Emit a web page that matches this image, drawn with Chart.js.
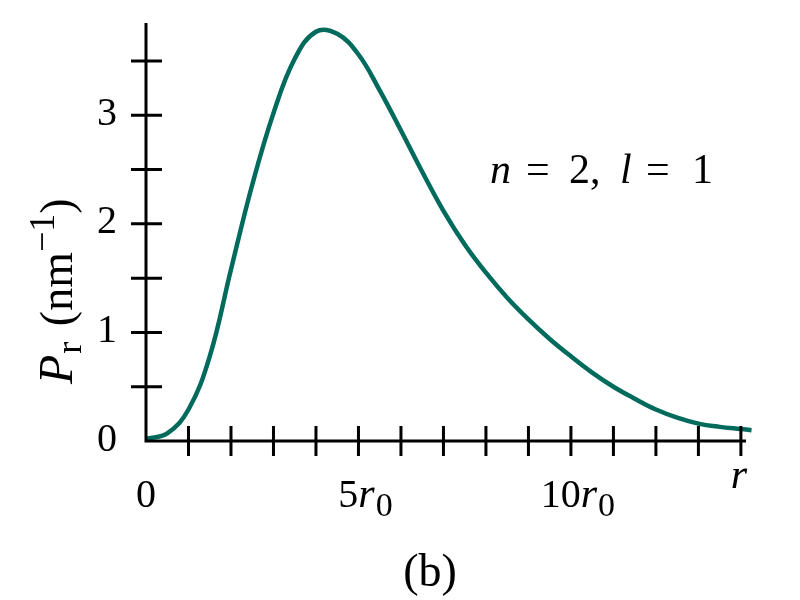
<!DOCTYPE html>
<html>
<head>
<meta charset="utf-8">
<script src="https://cdn.jsdelivr.net/npm/chart.js@4.4.1/dist/chart.umd.min.js"></script>
<style>
  html, body { margin: 0; padding: 0; background: #fff; }
  canvas { display: block; }
</style>
</head>
<body>
<canvas id="chart" width="800" height="600"></canvas>
<script>
// radius in units of r0
const rValues  = [0, 0.5, 1, 1.5, 2, 2.5, 3, 3.5, 4, 4.5, 5, 5.5, 6, 6.5, 7, 7.5, 8, 8.5, 9, 9.5, 10, 10.5, 11, 11.5, 12, 12.5, 13, 13.5, 14, 14.25]
// P_r in nm^-1
const prValues = [0.02, 0.07, 0.29, 0.78, 1.58, 2.36, 3.02, 3.52, 3.77, 3.75, 3.56, 3.23, 2.86, 2.48, 2.12, 1.81, 1.55, 1.32, 1.12, 0.94, 0.78, 0.63, 0.50, 0.39, 0.29, 0.215, 0.16, 0.13, 0.11, 0.10]

const xTickVals = [1, 2, 3, 4, 5, 6, 7, 8, 9, 10, 11, 12, 13, 14]
const yTickVals = [0.5, 1, 1.5, 2, 2.5, 3, 3.5]
const yLabelVals = [0, 1, 2, 3]
const xLabelVals = [0, 5, 10]
const xLabelNums = ['0', '5', '10']
const curveLabel = ['n', '=', '2,', 'l', '=', '1']
const panelLabel = '(b)'

const serif = '"Liberation Serif", Tinos, "Nimbus Roman", FreeSerif, "Noto Serif", "Times New Roman", Times, "DejaVu Serif", serif'
const font = (size, italic) => (italic ? 'italic ' : '') + size + 'px ' + serif
const ink = '#000'
const curveColor = '#006b5c'

// parts: [text, size, italic, dy, gapAfter]
function runWidth(ctx, parts) {
  let w = 0
  for (const p of parts) { ctx.font = font(p[1], p[2]); w += ctx.measureText(p[0]).width + (p[4] || 0) }
  return w
}
function drawRun(ctx, x, y, parts) {
  for (const p of parts) {
    ctx.font = font(p[1], p[2])
    ctx.fillText(p[0], x, y + (p[3] || 0))
    x += ctx.measureText(p[0]).width + (p[4] || 0)
  }
  return x
}

const axesPlugin = {
  id: 'axesPlugin',
  afterDatasetsDraw(chart) {
    const ctx = chart.ctx
    const xs = chart.scales.x, ys = chart.scales.y
    const x0 = xs.getPixelForValue(0), y0 = ys.getPixelForValue(0)
    ctx.save()
    ctx.strokeStyle = ink
    ctx.lineWidth = 3
    ctx.lineCap = 'butt'
    ctx.beginPath()
    ctx.moveTo(x0, y0 + 1.5); ctx.lineTo(x0, chart.chartArea.top)
    ctx.moveTo(x0 - 1.5, y0); ctx.lineTo(chart.chartArea.right, y0)
    for (const v of xTickVals) {
      const px = xs.getPixelForValue(v)
      ctx.moveTo(px, y0 - 15); ctx.lineTo(px, y0 + 15)
    }
    for (const v of yTickVals) {
      const py = ys.getPixelForValue(v)
      ctx.moveTo(x0 - 15, py); ctx.lineTo(x0 + 16, py)
    }
    ctx.stroke()

    ctx.fillStyle = ink
    // y tick labels
    ctx.font = font(40, false)
    ctx.textAlign = 'right'
    ctx.textBaseline = 'middle'
    for (const v of yLabelVals) ctx.fillText(String(v), x0 - 29, ys.getPixelForValue(v) - 1)

    // x tick labels
    ctx.textAlign = 'left'
    ctx.textBaseline = 'alphabetic'
    xLabelVals.forEach((v, i) => {
      const px = xs.getPixelForValue(v)
      const parts = v === 0
        ? [[xLabelNums[i], 40, false]]
        : [[xLabelNums[i], 40, false], ['r', 42, true, 0, 1], ['0', 34, false, 9]]
      const w = runWidth(ctx, parts)
      drawRun(ctx, px - w / 2 + (v === 0 ? 0 : 7), 507, parts)
    })
    // axis variable at the end
    ctx.font = font(42, true)
    ctx.textAlign = 'center'
    ctx.fillText('r', xs.getPixelForValue(14) - 2, 488)

    // curve label
    ctx.textAlign = 'left'
    const labelX = [490, 526, 569, 620, 646, 692]
    curveLabel.forEach((t, i) => {
      ctx.font = font(42, t === 'n' || t === 'l')
      ctx.fillText(t, labelX[i], 183)
    })

    // panel label
    ctx.textAlign = 'center'
    ctx.font = font(46, false)
    ctx.fillText(panelLabel, 430, 586)

    // y axis title
    ctx.translate(72, 384)
    ctx.rotate(-Math.PI / 2)
    ctx.textAlign = 'left'
    drawRun(ctx, 0, 0, [
      ['P', 48, true, 0, 1], ['r', 36, false, 9, 4], [' (nm', 46, false],
      ['\u22121', 36, false, -18], [')', 46, false]
    ])
    ctx.restore()
  }
}

const points = rValues.map((r, i) => ({ x: r, y: prValues[i] }))

new Chart(document.getElementById('chart'), {
  type: 'scatter',
  data: {
    datasets: [{
      data: points,
      showLine: true,
      borderColor: curveColor,
      borderWidth: 4.5,
      pointRadius: 0,
      tension: 0.4,
      clip: false
    }]
  },
  options: {
    responsive: false,
    animation: false,
    events: [],
    layout: { padding: { top: 23, right: 54, left: 0, bottom: 0 } },
    plugins: { legend: { display: false }, tooltip: { enabled: false } },
    scales: {
      x: {
        type: 'linear', min: 0, max: 14.12,
        grid: { display: false }, border: { display: false },
        ticks: { display: false },
        afterFit: s => { s.height = 159 }
      },
      y: {
        type: 'linear', min: 0, max: 3.85,
        grid: { display: false }, border: { display: false },
        ticks: { display: false },
        afterFit: s => { s.width = 146 }
      }
    }
  },
  plugins: [axesPlugin]
})
</script>
</body>
</html>
